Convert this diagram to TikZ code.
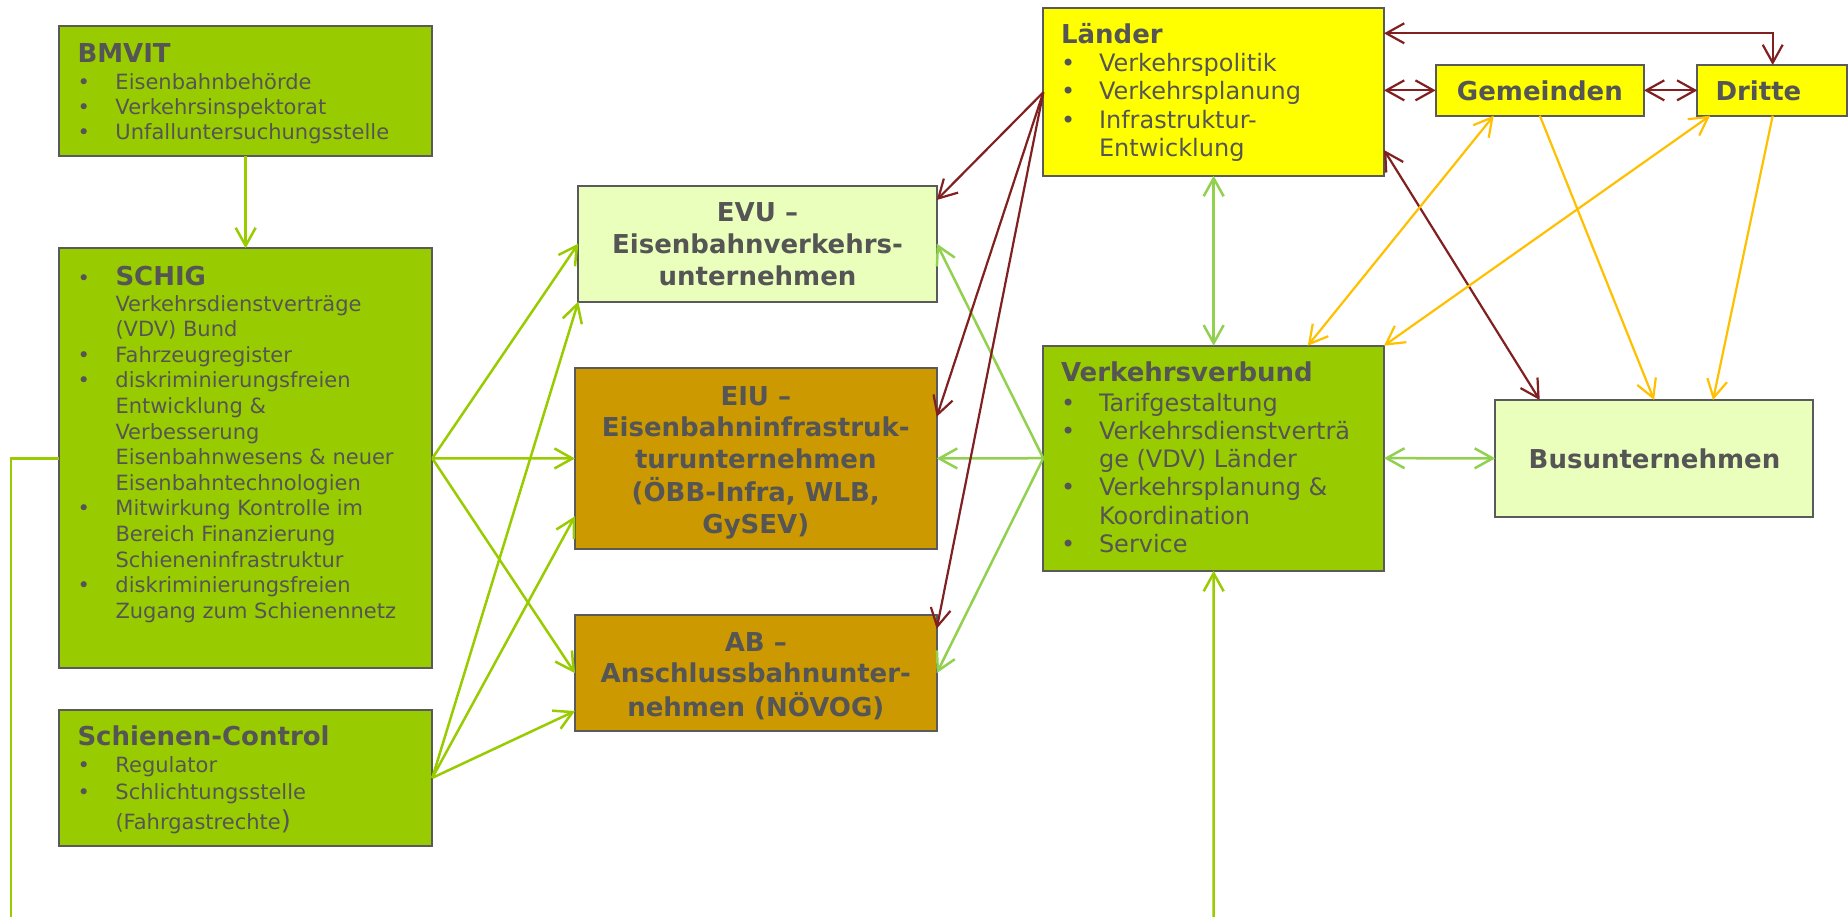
\documentclass[tikz,border=0pt]{standalone}
\usepackage{fontspec}
\setmainfont{DejaVu Sans}
\usetikzlibrary{arrows.meta,fit,calc}
\definecolor{cLime}{HTML}{99CC00}
\definecolor{cLgreen}{HTML}{92D050}
\definecolor{cPale}{RGB}{235,255,189}
\definecolor{cOchre}{HTML}{CC9900}
\definecolor{cYel}{HTML}{FFFF00}
\definecolor{cRed}{RGB}{128,32,32}
\definecolor{cOrng}{HTML}{FFC000}
\definecolor{cText}{HTML}{555555}
\definecolor{cLine}{HTML}{5A5A5A}
\newcommand\ttl{\fontsize{13}{16}\selectfont\bfseries}
\newcommand\ttlc{\fontsize{13}{15.8}\selectfont\bfseries}
\newcommand\bodyA{\fontsize{10.5}{12.5}\selectfont}
\newcommand\bodyS{\fontsize{10.5}{12.8}\selectfont}
\newcommand\bodyL{\fontsize{12}{14.15}\selectfont}
\newcommand\bu{\makebox[19pt][l]{\textbullet}}
\begin{document}
\begin{tikzpicture}[x=0.5pt,y=-0.5pt,
  >={Straight Barb[length=9pt,width=10pt]},
  box/.style={draw=cLine,line width=1pt,inner sep=0pt,outer sep=0pt},
  gbox/.style={box,fill=cLime},
  pbox/.style={box,fill=cPale},
  obox/.style={box,fill=cOchre},
  ybox/.style={box,fill=cYel},
  txt/.style={inner sep=0pt,outer sep=0pt,text=cText},
  lc/.style={draw=cLime,line width=1.25pt},
  lg/.style={draw=cLgreen,line width=1.25pt},
  rd/.style={draw=cRed,line width=1.1pt},
  og/.style={draw=cOrng,line width=1.1pt}]
\useasboundingbox (0,0) rectangle (1848,916);

% boxes
\node[gbox,fit={(59,26)(432.3,155.7)}] (bmvit) {};
\node[gbox,fit={(59,248.3)(432.3,668.3)}] (schig) {};
\node[gbox,fit={(59,710)(432.3,845.7)}] (sc) {};
\node[pbox,fit={(578.3,185.6)(936.7,301.6)}] (evu) {};
\node[obox,fit={(575,367.8)(936.7,549.2)}] (eiu) {};
\node[obox,fit={(575,615.4)(936.7,731)}] (ab) {};
\node[ybox,fit={(1043.3,8.3)(1384,175.7)}] (laender) {};
\node[ybox,fit={(1435.7,65)(1644,115.7)}] (gem) {};
\node[ybox,fit={(1697.3,65)(1847,115.7)}] (dritte) {};
\node[gbox,fit={(1043.3,345.7)(1384,570.7)}] (vv) {};
\node[pbox,fit={(1495.2,400)(1813,516.7)}] (bus) {};

% texts
\node[txt,anchor=base west,font=\bodyA] (bmvitT) at (77.5,62.3) {\begin{tabular}[t]{@{}l@{}l@{}}
\multicolumn{2}{@{}l@{}}{\ttl BMVIT}\\[0.85pt]
\bu&Eisenbahnbehörde\\
\bu&Verkehrsinspektorat\\
\bu&Unfalluntersuchungsstelle\end{tabular}};

\node[txt,anchor=base west,font=\bodyS] (schigT) at (77.5,285) {\begin{tabular}[t]{@{}l@{}l@{}}
\bu&{\ttl SCHIG}\\[0.2pt]
&Verkehrsdienstverträge\\
&(VDV) Bund\\
\bu&Fahrzeugregister\\
\bu&diskriminierungsfreien\\
&Entwicklung \&\\
&Verbesserung\\
&Eisenbahnwesens \& neuer\\
&Eisenbahntechnologien\\
\bu&Mitwirkung Kontrolle im\\
&Bereich Finanzierung\\
&Schieneninfrastruktur\\
\bu&diskriminierungsfreien\\
&Zugang zum Schienennetz\end{tabular}};

\node[txt,anchor=base west,font=\bodyA] (scT) at (77.5,745.7) {\begin{tabular}[t]{@{}l@{}l@{}}
\multicolumn{2}{@{}l@{}}{\ttl Schienen-Control}\\[1pt]
\bu&Regulator\\[0.8pt]
\bu&Schlichtungsstelle\\[1.3pt]
&(Fahrgastrechte{\fontsize{13}{13}\selectfont)}\end{tabular}};

\node[txt,anchor=base,font=\ttl] (evuT) at (757.5,221) {\begin{tabular}[t]{@{}c@{}}
EVU –\\Eisenbahnverkehrs-\\unternehmen\end{tabular}};
\node[txt,anchor=base,font=\ttlc] (eiuT) at (755.8,405) {\begin{tabular}[t]{@{}c@{}}
EIU –\\Eisenbahninfrastruk-\\turunternehmen\\(ÖBB-Infra, WLB,\\GySEV)\end{tabular}};
\node[txt,anchor=base,font=\ttlc] (abT) at (755.8,651) {\begin{tabular}[t]{@{}c@{}}
AB –\\Anschlussbahnunter-\\nehmen (NÖVOG)\end{tabular}};

\node[txt,anchor=base west,font=\bodyL] (laenderT) at (1061,43.3) {\begin{tabular}[t]{@{}l@{}l@{}}
\multicolumn{2}{@{}l@{}}{\ttl Länder}\\
\bu&Verkehrspolitik\\
\bu&Verkehrsplanung\\
\bu&Infrastruktur-\\
&Entwicklung\end{tabular}};

\node[txt,anchor=base west,font=\bodyL] (vvT) at (1061,381.7) {\begin{tabular}[t]{@{}l@{}l@{}}
\multicolumn{2}{@{}l@{}}{\ttl Verkehrsverbund}\\[0.5pt]
\bu&Tarifgestaltung\\
\bu&Verkehrsdienstverträ\\
&ge (VDV) Länder\\
\bu&Verkehrsplanung \&\\
&Koordination\\
\bu&Service\end{tabular}};

\node[txt,anchor=base,font=\ttl] (gemT) at (1539.9,100.7) {Gemeinden};
\node[txt,anchor=base west,font=\ttl] (drT) at (1715.5,100.7) {Dritte};
\node[txt,anchor=base,font=\ttl] (busT) at (1654.5,468.3) {Busunternehmen};

% lime connectors
\draw[lc,->] (bmvit.south) -- (schig.north);
\draw[lc,->] (schig.east) -- (evu.west);
\draw[lc,->] (schig.east) -- (eiu.west);
\draw[lc,->] (schig.east) -- (ab.west);
\draw[lc,->] (sc.east) -- (evu.south west);
\draw[lc,->] (sc.east) -- ($(eiu.south west)+(0,-33)$);
\draw[lc,->] (sc.east) -- ($(ab.south west)+(0,-20)$);
\coordinate (lbot) at (11,920);
\draw[lc] (schig.west) -| (lbot);
\coordinate (vbot) at (1213.7,920);
\draw[lc,->] (vbot) -- (vv.south);

% light green connectors
\draw[lg,->] (vv.west) -- (evu.east);
\draw[lg,->] (vv.west) -- (eiu.east);
\draw[lg,->] (vv.west) -- (ab.east);
\draw[lg,<->] (laender.south) -- (vv.north);
\draw[lg,<->] (vv.east) -- (bus.west);

% dark red connectors
\coordinate (lw) at ($(laender.north west)+(0,84)$);
\draw[rd,->] (lw) -- ($(evu.north east)+(0,14.4)$);
\draw[rd,->] (lw) -- ($(eiu.north east)+(0,49)$);
\draw[rd,->] (lw) -- ($(ab.north east)+(0,13.4)$);
\draw[rd,<->] ($(laender.north east)+(0,25)$) -| ($(dritte.north west)+(75.4,0)$);
\draw[rd,<->] (gem.west -| laender.east) -- (gem.west);
\draw[rd,<->] (gem.east) -- (dritte.west);
\draw[rd,<->] ($(laender.south east)+(0,-25.7)$) -- ($(bus.north west)+(44.5,0)$);

% orange connectors
\draw[og,->] (gem.south) -- (bus.north);
\draw[og,->] ($(dritte.south west)+(75.4,0)$) -- ($(bus.north west)+(217.8,0)$);
\draw[og,<->] ($(vv.north west)+(264.5,0)$) -- ($(gem.south west)+(58,0)$);
\draw[og,<->] (vv.north east) -- ($(dritte.south west)+(12.7,0)$);
\end{tikzpicture}
\end{document}
